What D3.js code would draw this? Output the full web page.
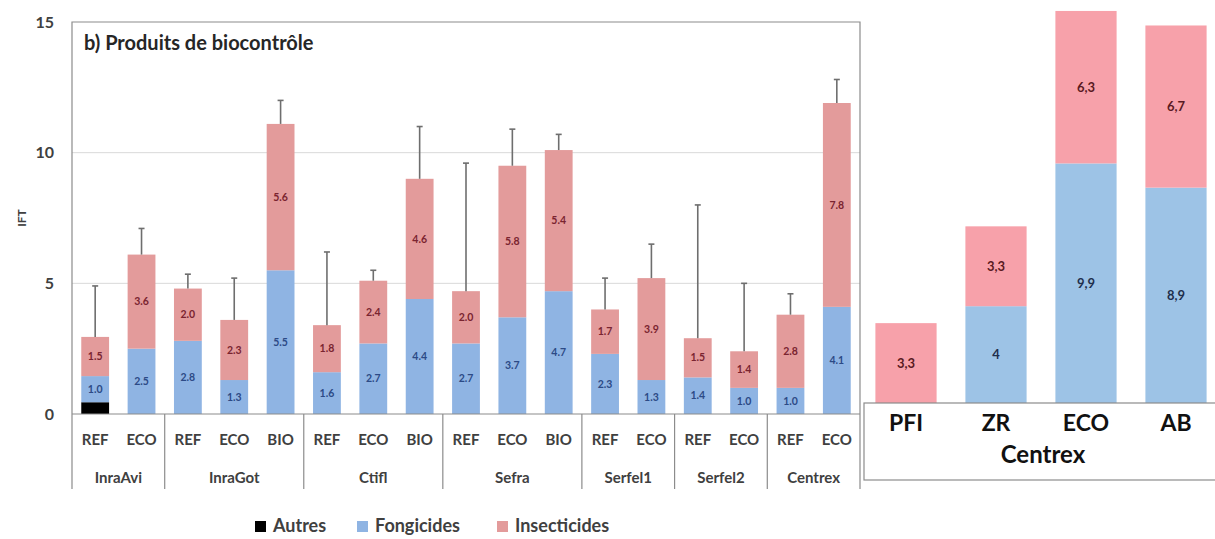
<!DOCTYPE html>
<html>
<head>
<meta charset="utf-8">
<script src="https://d3js.org/d3.v7.min.js"></script>
<style>
body { margin: 0; background: white; }
text { font-family: Lato, "Open Sans", Arial, sans-serif; font-weight: bold; }
</style>
</head>
<body>
<div id="chart"></div>
<script>
// left panel data
var groups   = ["InraAvi", "InraAvi", "InraGot", "InraGot", "InraGot", "Ctifl", "Ctifl", "Ctifl",
                "Sefra", "Sefra", "Sefra", "Serfel1", "Serfel1", "Serfel2", "Serfel2", "Centrex", "Centrex"];
var systems  = ["REF", "ECO", "REF", "ECO", "BIO", "REF", "ECO", "BIO",
                "REF", "ECO", "BIO", "REF", "ECO", "REF", "ECO", "REF", "ECO"];
var autres   = [0.45, 0, 0, 0, 0, 0, 0, 0, 0, 0, 0, 0, 0, 0, 0, 0, 0];
var fongi    = [1.0, 2.5, 2.8, 1.3, 5.5, 1.6, 2.7, 4.4, 2.7, 3.7, 4.7, 2.3, 1.3, 1.4, 1.0, 1.0, 4.1];
var insecti  = [1.5, 3.6, 2.0, 2.3, 5.6, 1.8, 2.4, 4.6, 2.0, 5.8, 5.4, 1.7, 3.9, 1.5, 1.4, 2.8, 7.8];
var errTop   = [4.9, 7.1, 5.35, 5.2, 12.0, 6.2, 5.5, 11.0, 9.6, 10.9, 10.7, 5.2, 6.5, 8.0, 5.0, 4.6, 12.8];
var yTicks   = [0, 5, 10, 15];

// right panel data (Centrex)
var rCats    = ["PFI", "ZR", "ECO", "AB"];
var rFongi   = [0, 4, 9.9, 8.9];
var rInsecti = [3.3, 3.3, 6.3, 6.7];
var rFongiLab   = ["", "4", "9,9", "8,9"];
var rInsectiLab = ["3,3", "3,3", "6,3", "6,7"];

var legendItems = ["Autres", "Fongicides", "Insecticides"];

var svg = d3.select("#chart").append("svg")
  .attr("width", 1215)
  .attr("height", 539);

// ---------- left panel ----------
var idx = d3.range(systems.length);
var x = d3.scaleBand().domain(idx).range([72, 860]).paddingInner(0.4).paddingOuter(0.2);
var y = d3.scaleLinear().domain([0, 15]).range([414, 22]);

var left = svg.append("g");

// gridlines
left.selectAll(".grid")
  .data([5, 10])
  .enter().append("line")
  .attr("x1", 72).attr("x2", 860)
  .attr("y1", d => y(d)).attr("y2", d => y(d))
  .attr("stroke", "#d9d9d9").attr("stroke-width", 1);

// frame
left.append("path")
  .attr("d", `M72,489 V${y(15)} H860 V489`)
  .attr("fill", "none").attr("stroke", "#8c8c8c").attr("stroke-width", 1.2);

// tick labels
left.selectAll(".ytick")
  .data(yTicks)
  .enter().append("text")
  .attr("x", 54).attr("y", d => y(d))
  .attr("dy", "0.35em")
  .attr("text-anchor", "end")
  .attr("font-size", 16)
  .attr("fill", "#404040")
  .text(d => d);

left.append("text")
  .attr("transform", "translate(26,218) rotate(-90)")
  .attr("text-anchor", "middle")
  .attr("font-size", 12)
  .attr("fill", "#404040")
  .text("IFT");

left.append("text")
  .attr("x", 84).attr("y", 50)
  .attr("font-size", 20)
  .attr("fill", "#262626")
  .text("b) Produits de biocontrôle");

var colA = "#000000", colF = "#8fb4e3", colI = "#e39b9b";

// stacked bars
idx.forEach(function(i) {
  var b0 = 0, b1 = autres[i], b2 = b1 + fongi[i], b3 = b2 + insecti[i];
  var bx = x(i), bw = x.bandwidth();
  if (autres[i] > 0) {
    left.append("rect").attr("x", bx).attr("width", bw)
      .attr("y", y(b1)).attr("height", y(b0) - y(b1)).attr("fill", colA);
  }
  left.append("rect").attr("x", bx).attr("width", bw)
    .attr("y", y(b2)).attr("height", y(b1) - y(b2)).attr("fill", colF);
  left.append("rect").attr("x", bx).attr("width", bw)
    .attr("y", y(b3)).attr("height", y(b2) - y(b3)).attr("fill", colI);

  // error bar
  var cx = bx + bw / 2;
  left.append("line").attr("x1", cx).attr("x2", cx)
    .attr("y1", y(b3)).attr("y2", y(errTop[i]))
    .attr("stroke", "#6e6e6e").attr("stroke-width", 1.6);
  left.append("line").attr("x1", cx - 3).attr("x2", cx + 3)
    .attr("y1", y(errTop[i])).attr("y2", y(errTop[i]))
    .attr("stroke", "#6e6e6e").attr("stroke-width", 1.6);

  // value labels
  left.append("text").attr("x", cx).attr("y", y((b1 + b2) / 2))
    .attr("dy", "0.35em").attr("text-anchor", "middle")
    .attr("font-size", 10.5).attr("fill", "#2c4a86")
    .text(fongi[i].toFixed(1));
  left.append("text").attr("x", cx).attr("y", y((b2 + b3) / 2))
    .attr("dy", "0.35em").attr("text-anchor", "middle")
    .attr("font-size", 10.5).attr("fill", "#7a2430")
    .text(insecti[i].toFixed(1));

  // system label
  left.append("text").attr("x", cx).attr("y", 440)
    .attr("dy", "0.35em").attr("text-anchor", "middle")
    .attr("font-size", 15).attr("fill", "#404040")
    .text(systems[i]);
});

// axis line
left.append("line").attr("x1", 72).attr("x2", 860)
  .attr("y1", y(0)).attr("y2", y(0))
  .attr("stroke", "#8c8c8c").attr("stroke-width", 1.2);

// group labels and separators
var groupNames = Array.from(new Set(groups));
var step = x.step();
groupNames.forEach(function(g, k) {
  var members = idx.filter(i => groups[i] == g);
  var first = members[0], last = members[members.length - 1];
  var gx0 = 72 + first * step, gx1 = 72 + (last + 1) * step;
  left.append("text").attr("x", (gx0 + gx1) / 2).attr("y", 478)
    .attr("dy", "0.35em").attr("text-anchor", "middle")
    .attr("font-size", 15).attr("fill", "#404040")
    .text(g);
  if (k > 0) {
    left.append("line").attr("x1", gx0).attr("x2", gx0)
      .attr("y1", y(0)).attr("y2", 489)
      .attr("stroke", "#8c8c8c").attr("stroke-width", 1.2);
  }
});

// legend
var legColors = [colA, colF, colI];
var legX = [255, 357, 497];
legendItems.forEach(function(name, k) {
  svg.append("rect").attr("x", legX[k]).attr("y", 521).attr("width", 11).attr("height", 11)
    .attr("fill", legColors[k]);
  svg.append("text").attr("x", legX[k] + 18).attr("y", 526)
    .attr("dy", "0.35em").attr("font-size", 18).attr("fill", "#404040")
    .text(name);
});

// ---------- right panel ----------
var xr = d3.scaleBand().domain(rCats).range([861, 1221]).paddingInner(0.32).paddingOuter(0.16);
var yr = d3.scaleLinear().domain([0, 403 / 24.2]).range([403, 0]);
var rColF = "#9dc3e6", rColI = "#f7a1aa";

var right = svg.append("g");

rCats.forEach(function(c, i) {
  var bx = xr(c), bw = xr.bandwidth(), cx = bx + bw / 2;
  var top1 = rFongi[i], top2 = rFongi[i] + rInsecti[i];
  if (rFongi[i] > 0) {
    right.append("rect").attr("x", bx).attr("width", bw)
      .attr("y", yr(top1)).attr("height", yr(0) - yr(top1)).attr("fill", rColF);
    right.append("text").attr("x", cx).attr("y", yr(top1 / 2))
      .attr("dy", "0.35em").attr("text-anchor", "middle")
      .attr("font-size", 13).attr("fill", "#1f2f4d")
      .text(rFongiLab[i]);
  }
  right.append("rect").attr("x", bx).attr("width", bw)
    .attr("y", yr(top2)).attr("height", yr(top1) - yr(top2)).attr("fill", rColI);
  right.append("text").attr("x", cx).attr("y", yr((top1 + top2) / 2))
    .attr("dy", "0.35em").attr("text-anchor", "middle")
    .attr("font-size", 13).attr("fill", "#5a1a22")
    .text(rInsectiLab[i]);
});

right.append("rect")
  .attr("x", 864).attr("y", 403).attr("width", 360).attr("height", 77)
  .attr("fill", "white").attr("stroke", "#8c8c8c").attr("stroke-width", 1.2);

rCats.forEach(function(c) {
  right.append("text").attr("x", xr(c) + xr.bandwidth() / 2).attr("y", 423)
    .attr("dy", "0.35em").attr("text-anchor", "middle")
    .attr("font-size", 23).attr("fill", "#111")
    .text(c);
});
right.append("text").attr("x", 1043).attr("y", 455)
  .attr("dy", "0.35em").attr("text-anchor", "middle")
  .attr("font-size", 24).attr("fill", "#111")
  .text("Centrex");
</script>
</body>
</html>
